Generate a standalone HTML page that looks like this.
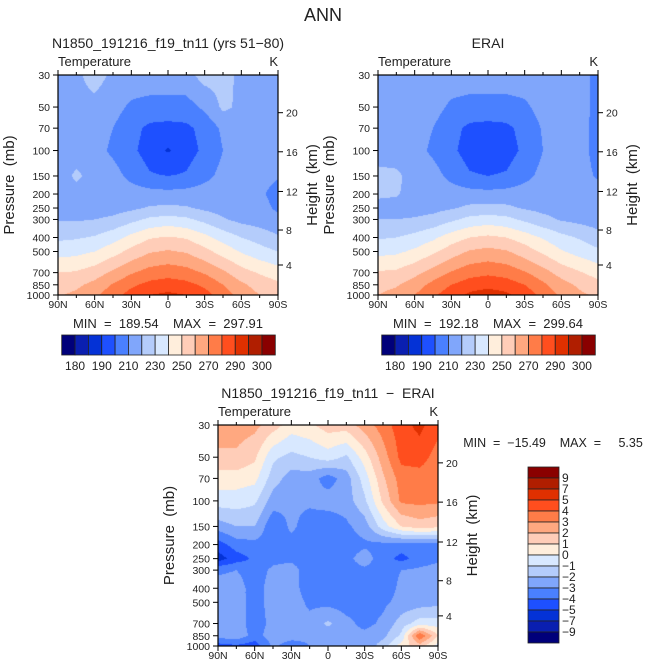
<!DOCTYPE html>
<html><head><meta charset="utf-8"><style>
body{margin:0;background:#fff;width:647px;height:670px;overflow:hidden;position:relative;font-family:"Liberation Sans",sans-serif}
canvas{position:absolute}
svg{position:absolute;left:0;top:0}
text{font-family:"Liberation Sans",sans-serif;fill:#222;white-space:pre}
</style></head><body>
<canvas id="c1" width="220" height="220" style="left:58px;top:75px"></canvas>
<canvas id="c2" width="220" height="220" style="left:378px;top:75px"></canvas>
<canvas id="c3" width="220" height="221" style="left:218px;top:425px"></canvas>
<svg id="ov" width="647" height="670" xml:space="preserve"></svg>
<script>
const pressures=[30,50,70,100,150,200,250,300,400,500,700,850,1000];
const lats=['90N','75N','60N','45N','30N','15N','0','15S','30S','45S','60S','75S','90S'];
const latLabels=['90N','60N','30N','0','30S','60S','90S'];
const heightTicks=[4,8,12,16,20];
const heightTickPressures=[620,355,192,102,54.7];
const colors=['#00007a','#0a1fb0','#0432d6','#1e50ff','#4a80ff','#80a6fb','#b4ccfb','#d8e8ff','#ffeedc','#ffcdb8','#ffa880','#ff7c48','#ff4e1e','#e03000','#b01e00','#8a0000'];
const tempLevels=[180,185,190,200,210,220,230,240,250,260,270,280,290,295,300];
const tempLabels=['180','190','210','230','250','270','290','300'];
const diffLevels=[-9,-7,-5,-4,-3,-2,-1,0,1,2,3,4,5,7,9];
const modelT=[
[218,218,224,218,217,217,217,217,224,223,218,217,216],
[217,217,217,214,208,206,206,206,212,222,218,217,216],
[216,216,215,210,203,198,197,198,203,212,218,217,216],
[215,215,214,208,202,196,189,196,202,210,216,216,215],
[214,222,216,214,207,201,200,201,207,213,214,213,211],
[216,216,216,216,215,214,213,214,215,215,214,212,206],
[215,215,215,216,218,221,222,221,218,216,215,214,208],
[219,219,220,222,227,232,234,232,227,221,217,215,213],
[228,229,231,236,243,249,251,249,243,236,230,226,221],
[236,237,240,246,253,259,261,259,253,246,239,234,230],
[250,251,255,262,269,274,276,274,269,262,254,249,245],
[256,258,263,271,278,283,285,283,278,270,262,256,252],
[259,262,268,276,284,290,292,290,284,275,266,260,256]];
const eraiT=[
[216,216,216,216,216,216,216,216,216,216,216,214,207],
[216,216,216,214,208,206,206,206,208,214,216,214,207],
[216,216,215,210,203,198,197,198,203,211,216,214,206],
[215,215,214,208,202,196,194,196,202,210,215,213,207],
[223,222,216,214,207,201,200,201,207,213,215,213,209],
[222,221,216,216,215,214,213,214,215,215,215,214,214],
[216,216,216,217,219,222,223,222,219,217,216,215,214],
[220,220,221,223,228,233,235,233,228,223,219,217,215],
[229,230,233,238,245,250,252,250,245,239,233,229,224],
[237,238,242,248,255,261,263,261,255,248,241,236,232],
[251,252,257,264,271,276,278,276,271,264,256,251,246],
[257,259,265,273,280,285,287,285,280,272,264,258,253],
[260,263,270,278,286,292,295,292,286,277,268,262,258]];
const diffT=[
[2.5,2.5,2.3,1.5,0.5,0.8,1.5,1.5,2.5,3.5,4.6,5.3,4.3],
[1.8,1.8,1.2,-0.8,-1.3,-1.0,-0.5,-1.2,0.5,2.5,4.3,4.4,3.6],
[0.5,0.5,0.3,-1.5,-2.5,-2.5,-3.5,-2.5,-0.5,1.8,3.5,3.6,3.4],
[-0.5,-0.5,-0.8,-2.5,-2.8,-2.8,-2.5,-2.5,-1.2,1.2,3.2,3.3,3.2],
[-2.5,-2,-2,-3.8,-2.8,-3.5,-3.8,-3.2,-2.5,-0.5,1,1.5,1.2],
[-4.5,-3.5,-3.3,-3.5,-3.3,-3.7,-3.9,-3.5,-3.2,-3.3,-3.5,-3.5,-3.3],
[-5.5,-4.5,-3.8,-3.3,-3.2,-3.6,-3.7,-3.3,-2.5,-3.6,-4.3,-3.6,-3.2],
[-3.2,-3,-3.5,-2.8,-2.6,-3.5,-3.6,-3.4,-3.2,-3.4,-3,-2.8,-2.6],
[-2.5,-2.5,-3.5,-2.5,-2.6,-3.5,-3.6,-3.6,-3.4,-3.5,-2.8,-2.6,-2.5],
[-2.7,-2.6,-3.4,-2.6,-2.5,-3.2,-3.3,-3.5,-3.4,-3.2,-2.7,-2.5,-2.3],
[-2.6,-2.5,-3.5,-2.7,-2.6,-2.7,-1.8,-2.7,-3.3,-2.8,-1.5,-0.5,-0.5],
[-2.6,-2.3,-3.4,-2.5,-2.6,-2.8,-2.6,-2.8,-2.7,-2.3,-0.8,4,1.0],
[-4.5,-4.2,-4.6,-2.8,-3.5,-3.0,-2.9,-2.8,-2.7,-1.5,0.5,1.5,-0.5]];
const diffLabels=['9','7','5','4','3','2','1','0','\u22121','\u22122','\u22123','\u22124','\u22125','\u22127','\u22129'];

const LP0=Math.log10(30),LP1=Math.log10(1000);
function pFrac(p){return (Math.log10(p)-LP0)/(LP1-LP0);}
const rowF=pressures.map(pFrac);
function hex(c){return [parseInt(c.substr(1,2),16),parseInt(c.substr(3,2),16),parseInt(c.substr(5,2),16)];}
const rgb=colors.map(hex);
function render(id,grid,levels){
  const cv=document.getElementById(id),ctx=cv.getContext('2d');
  const W=cv.width,H=cv.height,img=ctx.createImageData(W,H);
  const nc=lats.length-1;
  for(let y=0;y<H;y++){
    const f=(y+0.5)/H;let r=0;
    while(r<rowF.length-2&&f>rowF[r+1])r++;
    const tr=Math.min(1,Math.max(0,(f-rowF[r])/(rowF[r+1]-rowF[r])));
    for(let x=0;x<W;x++){
      const cf=(x+0.5)/W*nc;let c=Math.min(nc-1,Math.floor(cf));const tc=cf-c;
      const v=(grid[r][c]*(1-tc)+grid[r][c+1]*tc)*(1-tr)+(grid[r+1][c]*(1-tc)+grid[r+1][c+1]*tc)*tr;
      let k=0;while(k<levels.length&&v>=levels[k])k++;
      const col=rgb[k],i=(y*W+x)*4;
      img.data[i]=col[0];img.data[i+1]=col[1];img.data[i+2]=col[2];img.data[i+3]=255;
    }
  }
  ctx.putImageData(img,0,0);
}
render('c1',modelT,tempLevels);
render('c2',eraiT,tempLevels);
render('c3',diffT,diffLevels);

const NS='http://www.w3.org/2000/svg',ov=document.getElementById('ov');
function el(tag,attrs,txt){const e=document.createElementNS(NS,tag);for(const k in attrs)e.setAttribute(k,attrs[k]);if(txt!==undefined)e.textContent=txt;ov.appendChild(e);return e;}
function txt(x,y,s,size,anchor,name,rot){const a={x:x,y:y,'font-size':size,'text-anchor':anchor||'middle'};if(rot)a.transform='rotate(-90 '+x+' '+y+')';const e=el('text',a,s);return e;}

function axes(x0,y0,w,h,pfx){
  const g=el('rect',{x:x0,y:y0,width:w,height:h,fill:'none',stroke:'#000','stroke-width':1.2});
  
  for(let i=0;i<=12;i++){
    const x=x0+i/12*w,len=i%2==0?5:3;
    el('line',{x1:x,y1:y0,x2:x,y2:y0-len,stroke:'#000'});
    el('line',{x1:x,y1:y0+h,x2:x,y2:y0+h+len,stroke:'#000'});
  }
  latLabels.forEach((l,i)=>{txt(x0+i/6*w,y0+h+13,l,10.5,'middle',pfx+'-x-tick-label');});
  pressures.forEach(p=>{const y=y0+pFrac(p)*h;el('line',{x1:x0,y1:y,x2:x0-5,y2:y,stroke:'#000'});txt(x0-8,y+4,String(p),10.5,'end',pfx+'-pressure-tick-label');});
  heightTicks.forEach((t,i)=>{const y=y0+pFrac(heightTickPressures[i])*h;el('line',{x1:x0+w,y1:y,x2:x0+w+5,y2:y,stroke:'#000'});txt(x0+w+8,y+4,String(t),10.5,'start',pfx+'-height-tick-label');});
  txt(x0-44,y0+h/2,'Pressure  (mb)',15,'middle',pfx+'-y-axis-title',true);
  txt(x0+w+39,y0+h/2,'Height  (km)',15,'middle',pfx+'-right-axis-title',true);
  txt(x0,y0-9,'Temperature',13,'start',pfx+'-variable-label');
  txt(x0+w,y0-9,'K',13,'end',pfx+'-units-label');
}
txt(323,21,'ANN',18,'middle','figure-title');
txt(168,48,'N1850_191216_f19_tn11 (yrs 51\u221280)',14,'middle','model-panel-title');
txt(488,48,'ERAI',14,'middle','erai-panel-title');
txt(328,398,'N1850_191216_f19_tn11  \u2212  ERAI',14,'middle','difference-panel-title');
axes(58,75,220,220,'model');
axes(378,75,220,220,'erai');
axes(218,425,220,221,'diff');
txt(168,328,'MIN  =  189.54    MAX  =  297.91',13,'middle','model-min-max');
txt(488,328,'MIN  =  192.18    MAX  =  299.64',13,'middle','erai-min-max');
txt(553,447,'MIN  =  \u221215.49    MAX  =     5.35',12.5,'middle','diff-min-max');

function hbar(x0,y0,pfx){
  const bw=13.35;
  colors.forEach((c,i)=>{const r=el('rect',{x:x0+i*bw,y:y0,width:bw,height:20,fill:c,stroke:'#222','stroke-width':0.8});});
  tempLabels.forEach((l,i)=>{txt(x0+(1+2*i)*bw,y0+35,l,12,'middle',pfx+'-colorbar-label');});
}
hbar(61.7,335,'model');hbar(381.7,335,'erai');
const vb=11;const vx=528,vy=467;
for(let i=0;i<16;i++){const r=el('rect',{x:vx,y:vy+i*vb,width:31,height:vb,fill:colors[15-i],stroke:'#222','stroke-width':0.8});}
diffLabels.forEach((l,i)=>{txt(562,vy+(i+1)*vb+4,l,12,'start','diff-colorbar-label');});
</script>
</body></html>
